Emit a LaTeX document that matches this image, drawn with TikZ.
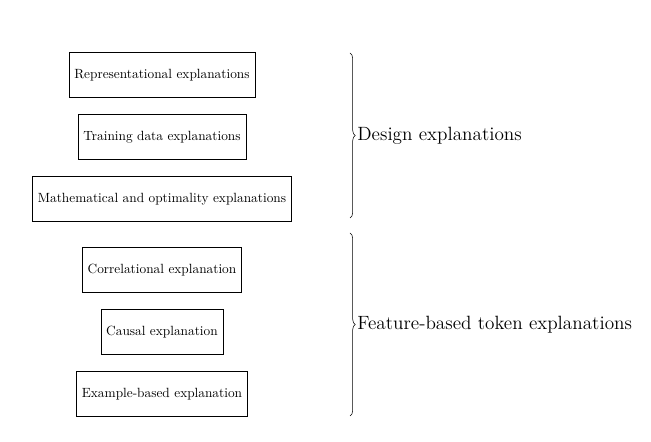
\documentclass[tikz,border=0pt]{standalone}
\usetikzlibrary{positioning,decorations.pathreplacing}
\begin{document}
\begin{tikzpicture}[x=0.75pt,y=-0.75pt,
    expl/.style={draw,minimum height=34pt,inner xsep=4pt,font=\normalsize},
    grp/.style={decorate,decoration={brace,amplitude=4pt}}]
    \useasboundingbox (0,0) rectangle (651,442);
    \node[expl] (repr)  at (162,75)  {Representational explanations};
    \node[expl] (train) at (162,137) {Training data explanations};
    \node[expl] (math)  at (162,199) {Mathematical and optimality explanations};
    \node[expl] (corr)  at (162,270) {Correlational explanation};
    \node[expl] (caus)  at (162,332) {Causal explanation};
    \node[expl] (exmp)  at (162,394) {Example-based explanation};
    \coordinate (d_top) at (350,53);
    \coordinate (d_bot) at (350,218);
    \coordinate (f_top) at (350,233);
    \coordinate (f_bot) at (350,416);
    \draw[grp] (d_top) -- (d_bot) node[midway,right=2pt,font=\Large] (design) {Design explanations};
    \draw[grp] (f_top) -- (f_bot) node[midway,right=2pt,font=\Large] (feat) {Feature-based token explanations};
\end{tikzpicture}
\end{document}
